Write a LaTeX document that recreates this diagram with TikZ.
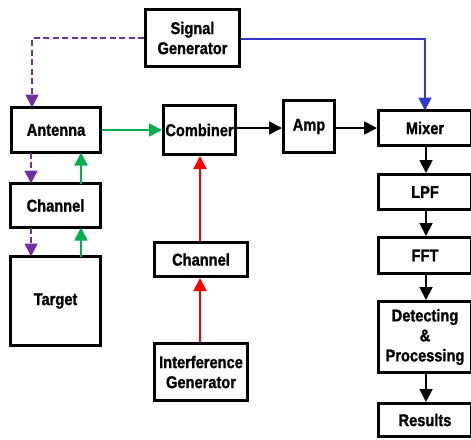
\documentclass[tikz,border=0pt]{standalone}
\usepackage{fontspec}
\setmainfont{Liberation Sans}[FakeStretch=0.86, BoldFeatures={FakeBold=1.2}]
\usetikzlibrary{arrows.meta}
\definecolor{sigpurple}{HTML}{7030A0}
\definecolor{siggreen}{HTML}{00B050}
\definecolor{sigblue}{HTML}{3535D0}
\definecolor{sigred}{HTML}{FF0000}
\tikzset{
  blk/.style={draw=black, line width=3pt, fill=white, inner sep=0pt, align=center,
    font=\fontsize{17}{20}\selectfont\bfseries},
  conn/.style={line width=1.8pt, -{Triangle[length=13pt,width=13pt]}},
  fwd/.style={conn, draw=black},
  tx/.style={conn, draw=sigpurple, dash pattern=on 6pt off 3.5pt},
  rx/.style={conn, draw=siggreen},
  lo/.style={conn, draw=sigblue},
  jam/.style={conn, draw=sigred},
}
\newcommand{\blkat}[6]{% name, cx, cy, w, h, text
  \node[blk, minimum width=#4pt, minimum height=#5pt] (#1) at (#2pt,-#3pt) {#6};}
\begin{document}
\begin{tikzpicture}[x=1pt,y=1pt]
\useasboundingbox (0,0) rectangle (471,-439);
\clip (0,0) rectangle (471,-439);
% boxes
\blkat{sg}{192.5}{38}{94}{57}{Signal\\Generator}
\blkat{ant}{56}{130}{89}{45}{Antenna}
\blkat{comb}{199.5}{130}{72}{49}{Combiner}
\blkat{amp}{309}{126.5}{51}{52}{Amp}
\blkat{mix}{425}{128}{93}{35}{Mixer}
\blkat{chl}{55.5}{205.5}{90}{44}{Channel}
\blkat{tgt}{55.5}{301}{90}{89}{Target}
\blkat{chm}{201}{259.5}{93}{34}{Channel}
\blkat{ig}{201}{372}{93}{57}{Interference\\Generator}
\blkat{lpf}{425}{192}{93}{35}{LPF}
\blkat{fft}{425}{255.5}{93}{36}{FFT}
\blkat{det}{425}{337}{93}{71}{Detecting\\\&\\Processing}
\blkat{res}{425}{420}{93}{33}{Results}
% helper points on the box edges
\coordinate (antT) at (32pt,-107.5pt);
\coordinate (antB) at (31pt,-152.5pt);
\coordinate (antBg) at (81pt,-152.5pt);
\coordinate (chlT) at (31pt,-183.5pt);
\coordinate (chlTg) at (81pt,-183.5pt);
\coordinate (chlB) at (31pt,-227.5pt);
\coordinate (chlBg) at (81pt,-227.5pt);
\coordinate (tgtT) at (31pt,-256.5pt);
\coordinate (tgtTg) at (81pt,-256.5pt);
\coordinate (mixT) at (425pt,-110.5pt);
% transmit path
\draw[tx] (sg.west |- 0,-38pt) -| (antT);
\draw[lo] (sg.east |- 0,-39pt) -| (mixT);
\draw[tx] (antB) -- (chlT);
\draw[tx] (chlB) -- (tgtT);
% echo path
\draw[rx] (tgtTg) -- (chlBg);
\draw[rx] (chlTg) -- (antBg);
\draw[rx] (ant.east |- 0,-130pt) -- (comb.west |- 0,-130pt);
% interference path
\draw[jam] (ig.north -| 200pt,0) -- (chm.south -| 200pt,0);
\draw[jam] (chm.north -| 200pt,0) -- (comb.south -| 200pt,0);
% receiver chain
\draw[fwd] (comb.east |- 0,-128pt) -- (amp.west |- 0,-128pt);
\draw[fwd] (amp.east |- 0,-128pt) -- (mix.west |- 0,-128pt);
\draw[fwd] (mix.south -| 426pt,0) -- (lpf.north -| 426pt,0);
\draw[fwd] (lpf.south -| 426pt,0) -- (fft.north -| 426pt,0);
\draw[fwd] (fft.south -| 426pt,0) -- (det.north -| 426pt,0);
\draw[fwd] (det.south -| 426pt,0) -- (res.north -| 426pt,0);
\end{tikzpicture}
\end{document}
